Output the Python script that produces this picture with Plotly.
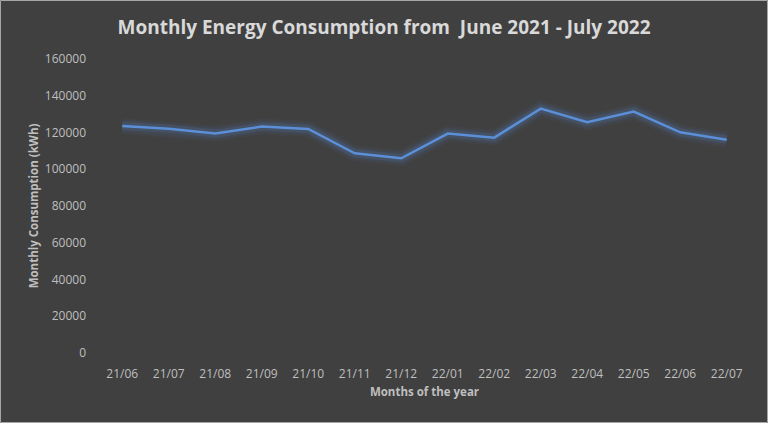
import plotly.graph_objects as go

months = ["21/06", "21/07", "21/08", "21/09", "21/10", "21/11", "21/12",
          "22/01", "22/02", "22/03", "22/04", "22/05", "22/06", "22/07"]
consumption = [123500, 122100, 119400, 123200, 121900, 108700, 106000,
               119400, 117200, 133000, 125600, 131400, 120100, 116100]
y_ticks = [0, 20000, 40000, 60000, 80000, 100000, 120000, 140000, 160000]

W, H = 768, 423
ml, mr, mt, mb = 99, 18, 59, 70
pw, ph = W - ml - mr, H - mt - mb

fig = go.Figure()
# glow layers
for width, alpha in [(16, 0.05), (12, 0.08), (8, 0.14)]:
    fig.add_trace(go.Scatter(x=months, y=consumption, mode="lines",
                             line=dict(color=f"rgba(91,143,216,{alpha})", width=width),
                             hoverinfo="skip", showlegend=False))
fig.add_trace(go.Scatter(x=months, y=consumption, mode="lines",
                         line=dict(color="#5b8fd8", width=2.5),
                         showlegend=False, name="Consumption"))

font_family = "Open Sans, Liberation Sans, sans-serif"
fig.update_layout(
    width=W, height=H,
    margin=dict(l=ml, r=mr, t=mt, b=mb),
    paper_bgcolor="#404040", plot_bgcolor="#404040",
    font=dict(family=font_family, color="#bfbfbf", size=12),
    title=dict(text="<b>Monthly Energy Consumption from  June 2021 - July 2022</b>",
               x=0.5, xanchor="center", y=1 - 27 / H, yanchor="middle",
               font=dict(size=19, color="#d9d9d9", family=font_family)),
    xaxis=dict(type="category", range=[-0.5, len(months) - 0.5],
               showgrid=False, zeroline=False, showline=False,
               ticks="", ticklabelstandoff=12, tickfont=dict(size=12, color="#bfbfbf"),
               title=dict(text="<b>Months of the year</b>", font=dict(size=11.5, color="#bfbfbf"),
                          standoff=6)),
    yaxis=dict(range=[0, 160000], tickvals=y_ticks, ticktext=[str(v) for v in y_ticks],
               showgrid=False, zeroline=False, showline=False, ticks="",
               ticklabelstandoff=12,
               tickfont=dict(size=12, color="#bfbfbf"),
               title=dict(text="<b>Monthly Consumption (kWh)</b>", font=dict(size=11.5, color="#bfbfbf"),
                          standoff=3)),
)
# outer border
fig.add_shape(type="rect", xref="paper", yref="paper",
              x0=-(ml - 0.5) / pw, x1=1 + (mr - 0.5) / pw,
              y0=-(mb - 0.5) / ph, y1=1 + (mt - 0.5) / ph,
              line=dict(color="#a6a6a6", width=1), layer="above")

fig.write_html("out.html", config={"displayModeBar": False},
               post_script="document.body.style.margin='0';document.body.style.overflow='hidden';")
